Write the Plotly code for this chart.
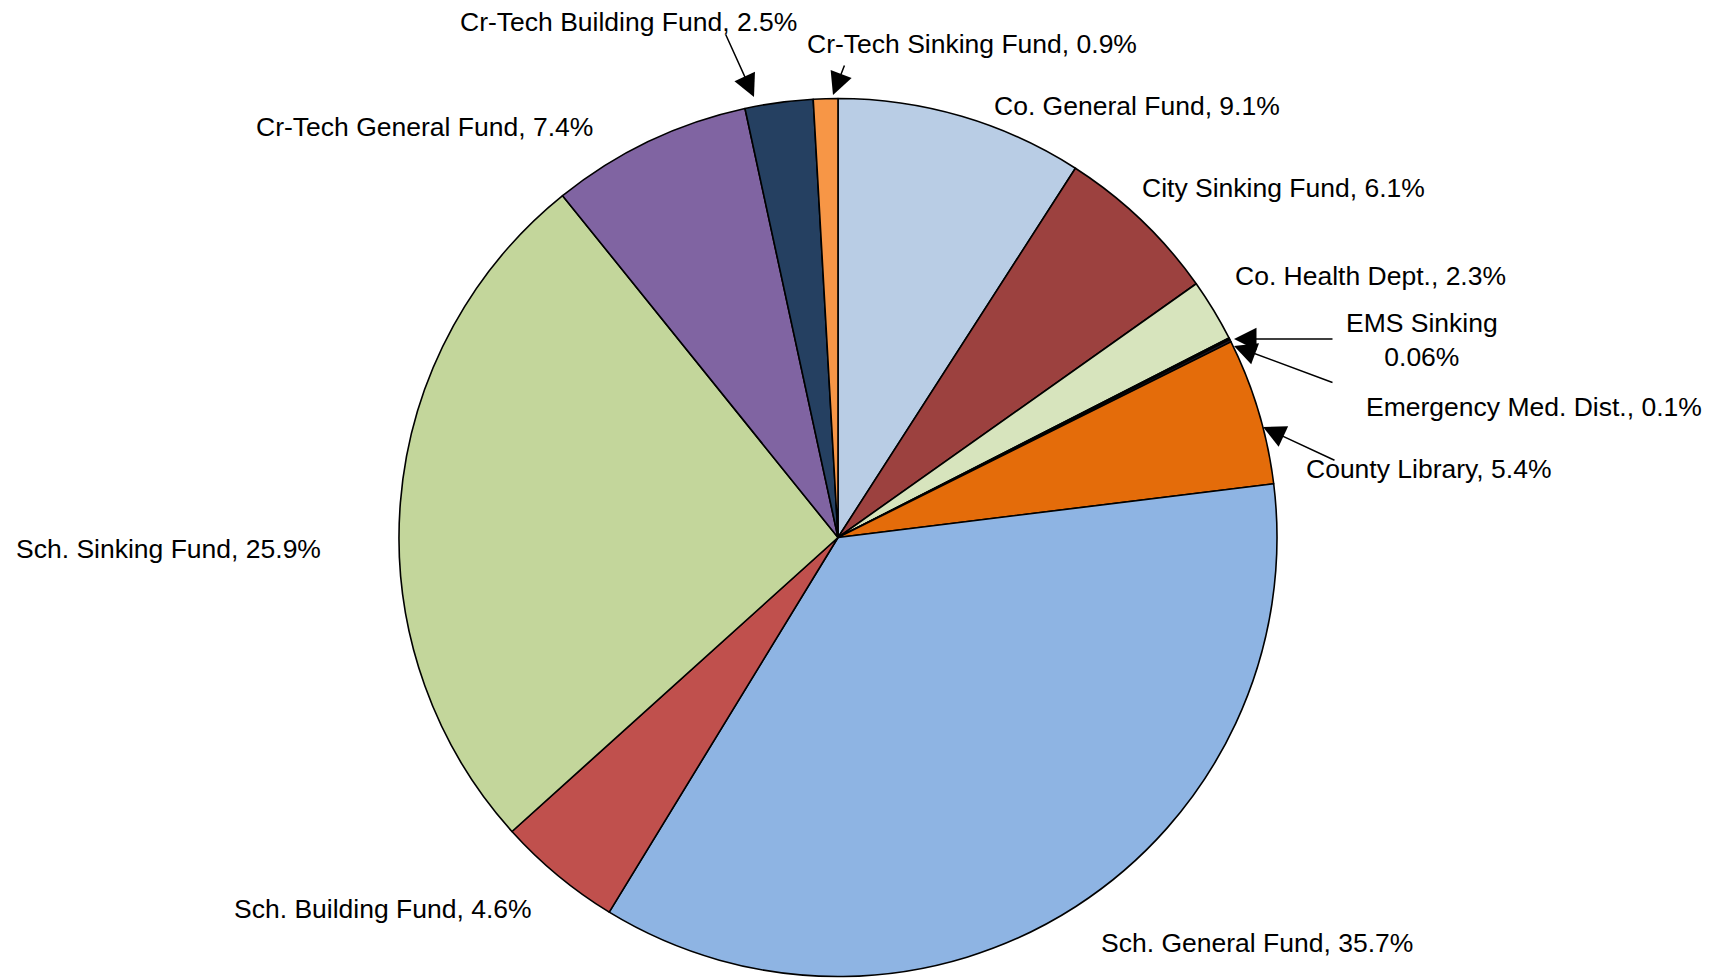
import plotly.graph_objects as go

W, H = 1727, 978

labels = ["Co. General Fund", "City Sinking Fund", "Co. Health Dept.", "EMS Sinking",
          "Emergency Med. Dist.", "County Library", "Sch. General Fund", "Sch. Building Fund",
          "Sch. Sinking Fund", "Cr-Tech General Fund", "Cr-Tech Building Fund", "Cr-Tech Sinking Fund"]
values = [9.1, 6.1, 2.3, 0.06, 0.1, 5.4, 35.7, 4.6, 25.9, 7.4, 2.5, 0.9]
pct_text = ["9.1%", "6.1%", "2.3%", "0.06%", "0.1%", "5.4%", "35.7%", "4.6%", "25.9%", "7.4%", "2.5%", "0.9%"]
colors = ["#B9CDE5", "#9C413F", "#D7E4BD", "#403152", "#1F1A2E", "#E46C0A",
          "#8EB4E3", "#C0504D", "#C3D69B", "#8064A2", "#254061", "#F79646"]

# label placement (pixels): left x, center y, arrow (tail, head) or None
label_pos = {
    "Co. General Fund": (992, 106, None),
    "City Sinking Fund": (1140, 188, None),
    "Co. Health Dept.": (1233, 276, None),
    "EMS Sinking": (1422, 340, ((1334, 339), (1234, 339))),
    "Emergency Med. Dist.": (1364, 407, ((1334, 383), (1234, 346))),
    "County Library": (1304, 469, ((1336, 461), (1263, 427))),
    "Sch. General Fund": (1099, 943, None),
    "Sch. Building Fund": (232, 909, None),
    "Sch. Sinking Fund": (14, 549, None),
    "Cr-Tech General Fund": (254, 127, None),
    "Cr-Tech Building Fund": (458, 22, ((725, 33), (754, 97))),
    "Cr-Tech Sinking Fund": (805, 44, ((845, 64), (833, 95))),
}

cx, cy, r = 838, 537.5, 439

fig = go.Figure(go.Pie(
    labels=labels, values=values, sort=False, direction="clockwise", rotation=0,
    marker=dict(colors=colors, line=dict(color="black", width=1.6)),
    textinfo="none", hoverinfo="label+percent", showlegend=False,
    domain=dict(x=[(cx - r) / W, (cx + r) / W], y=[1 - (cy + r) / H, 1 - (cy - r) / H]),
))

FONT = dict(family="Liberation Sans, Arial, sans-serif", size=26.5, color="black")
annotations = []
for lab, pct in zip(labels, pct_text):
    lx, ly, arrow = label_pos[lab]
    if lab == "EMS Sinking":
        annotations.append(dict(x=lx / W, y=1 - ly / H, xref="paper", yref="paper",
                                text=f"{lab}<br>{pct}", showarrow=False, xanchor="center",
                                yanchor="middle", align="center", font=FONT))
    else:
        annotations.append(dict(x=lx / W, y=1 - ly / H, xref="paper", yref="paper",
                                text=f"{lab}, {pct}", showarrow=False, xanchor="left",
                                yanchor="middle", font=FONT))
    if arrow:
        (tx, ty), (hx, hy) = arrow
        annotations.append(dict(x=hx / W, y=1 - hy / H, xref="paper", yref="paper",
                                ax=tx - hx, ay=ty - hy, text="", showarrow=True,
                                arrowhead=2, arrowsize=3, arrowwidth=1.5, arrowcolor="black"))

fig.update_layout(width=W, height=H, margin=dict(l=0, r=0, t=0, b=0),
                  paper_bgcolor="white", plot_bgcolor="white", annotations=annotations)
fig.write_html("out.html", config={"displayModeBar": False},
               post_script="document.body.style.margin='0px';")
